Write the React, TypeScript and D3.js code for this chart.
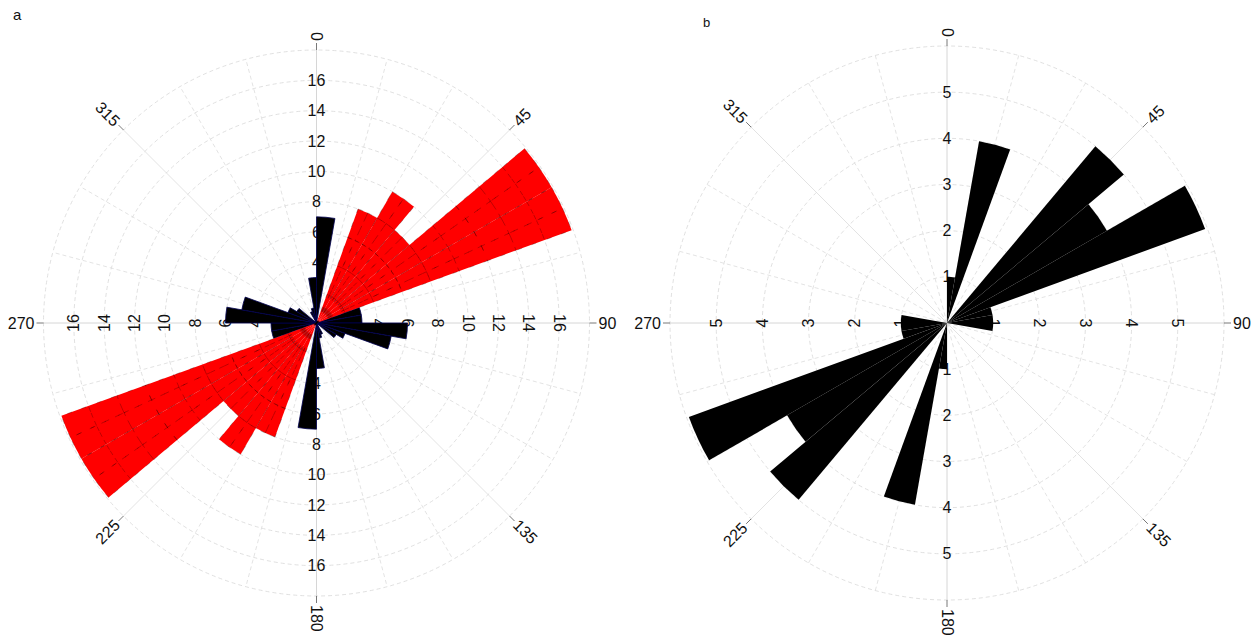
import React from "react";
import * as d3 from "d3";

// ---- data (bins of 10°, axial data mirrored by +180°) ----
const binStarts = [0, 10, 20, 30, 40, 50, 60, 70, 80, 90, 100, 110, 120, 130, 140, 150, 160, 170];
const binWidth = 10;
// Panel a: black series
const aBlack = [7, 0, 0, 0, 0, 0, 0, 3, 3, 6, 5, 2, 1.5, 0, 0, 0.8, 1, 3];
// Panel a: red series
const aRed = [0, 0, 8, 10, 8, 17.9, 17.9, 0, 0, 0, 0, 0, 0, 0, 0, 0, 0, 0];
// Panel b: black series
const bBlack = [1, 4, 0, 0, 5, 4, 5.95, 1, 1, 1, 0, 0, 0, 0, 0, 0, 0, 0];

const angleLabels = [0, 45, 90, 135, 180, 225, 270, 315];
const aTicks = [2, 4, 6, 8, 10, 12, 14, 16];
const bTicks = [1, 2, 3, 4, 5];

const W = 1256;
const H = 638;
const FONT = "'Liberation Sans', Arial, sans-serif";

type Cfg = {
  cx: number;
  cy: number;
  R: number;
  max: number;
  step: number;
  ticks: number[];
};

const toRad = (deg: number) => (deg * Math.PI) / 180;
const pt = (cx: number, cy: number, r: number, deg: number): [number, number] => [
  cx + r * Math.sin(toRad(deg)),
  cy - r * Math.cos(toRad(deg)),
];

function Grid({ cfg }: { cfg: Cfg }) {
  const { cx, cy, R, max, step, ticks } = cfg;
  const s = d3.scaleLinear().domain([0, max]).range([0, R]);
  const rings = d3.range(step, max + step / 2, step);
  const spokes = d3.range(0, 360, 15);
  return (
    <g>
      {rings.map((v) => (
        <circle
          key={"r" + v}
          cx={cx}
          cy={cy}
          r={s(v)}
          fill="none"
          stroke="#d8d8d8"
          strokeWidth={0.8}
          strokeDasharray="4,3"
        />
      ))}
      {spokes.map((a) => {
        const main = a % 45 === 0;
        const [x2, y2] = pt(cx, cy, R, a);
        return (
          <line
            key={"s" + a}
            x1={cx}
            y1={cy}
            x2={x2}
            y2={y2}
            stroke={a % 90 === 0 ? "#cccccc" : "#dcdcdc"}
            strokeWidth={0.8}
            strokeDasharray={main ? undefined : "4,3"}
          />
        );
      })}
      {angleLabels.map((a) => {
        const [x1, y1] = pt(cx, cy, R, a);
        const [x2, y2] = pt(cx, cy, R + 7, a);
        const [tx, ty] = pt(cx, cy, R + 9, a);
        let rot = a - 90;
        let anchor = "start";
        if (!(rot > -90 && rot <= 90)) {
          rot = rot - 180;
          if (rot <= -180) rot += 360;
          anchor = "end";
        }
        return (
          <g key={"al" + a}>
            <line x1={x1} y1={y1} x2={x2} y2={y2} stroke="#555" strokeWidth={0.8} />
            <text
              x={tx}
              y={ty}
              transform={`rotate(${rot},${tx},${ty})`}
              textAnchor={anchor}
              dominantBaseline="central"
              fontSize={16}
              fontFamily={FONT}
              fill="#111"
            >
              {a}
            </text>
          </g>
        );
      })}
      {ticks.map((v) => {
        const r = s(v);
        const items = [
          { x: cx, y: cy - r, rot: 0 },
          { x: cx, y: cy + r, rot: 0 },
          { x: cx + r, y: cy, rot: 90 },
          { x: cx - r, y: cy, rot: -90 },
        ];
        return items.map((it, i) => (
          <text
            key={"t" + v + "_" + i}
            x={it.x}
            y={it.y}
            transform={`rotate(${it.rot},${it.x},${it.y})`}
            textAnchor="middle"
            dominantBaseline="central"
            fontSize={16}
            fontFamily={FONT}
            fill="#111"
          >
            {v}
          </text>
        ));
      })}
    </g>
  );
}

function Bars({
  cfg,
  values,
  fill,
  stroke,
  strokeWidth,
}: {
  cfg: Cfg;
  values: number[];
  fill: string;
  stroke?: string;
  strokeWidth?: number;
}) {
  const { cx, cy, R, max } = cfg;
  const s = d3.scaleLinear().domain([0, max]).range([0, R]);
  const arc = d3.arc<any>();
  const items: { a0: number; v: number }[] = [];
  binStarts.forEach((b, i) => {
    if (values[i] > 0) {
      items.push({ a0: b, v: values[i] });
      items.push({ a0: b + 180, v: values[i] });
    }
  });
  return (
    <g transform={`translate(${cx},${cy})`}>
      {items.map((it, i) => (
        <path
          key={i}
          d={
            arc({
              innerRadius: 0,
              outerRadius: s(it.v),
              startAngle: toRad(it.a0),
              endAngle: toRad(it.a0 + binWidth),
            }) || ""
          }
          fill={fill}
          stroke={stroke || "none"}
          strokeWidth={strokeWidth || 0}
        />
      ))}
    </g>
  );
}

// red bars drawn as stacked sub-segments with faint dark edges
function RedBars({ cfg, values }: { cfg: Cfg; values: number[] }) {
  const { cx, cy, R, max } = cfg;
  const s = d3.scaleLinear().domain([0, max]).range([0, R]);
  const arc = d3.arc<any>();
  const segs: { a0: number; a1: number; r0: number; r1: number }[] = [];
  binStarts.forEach((b, i) => {
    const v = values[i];
    if (v <= 0) return;
    [b, b + 180].forEach((start) => {
      for (let k = 0; k < 2; k++) {
        const a0 = start + k * 5;
        for (let r = 0; r < v; r += 2) {
          segs.push({ a0, a1: a0 + 5, r0: r, r1: Math.min(v, r + 2) });
        }
      }
    });
  });
  const outlines: { a0: number; v: number }[] = [];
  binStarts.forEach((b, i) => {
    if (values[i] > 0) {
      outlines.push({ a0: b, v: values[i] });
      outlines.push({ a0: b + 180, v: values[i] });
    }
  });
  return (
    <g transform={`translate(${cx},${cy})`}>
      {outlines.map((it, i) => (
        <path
          key={"o" + i}
          d={
            arc({
              innerRadius: 0,
              outerRadius: s(it.v),
              startAngle: toRad(it.a0),
              endAngle: toRad(it.a0 + binWidth),
            }) || ""
          }
          fill="#ff0000"
          stroke="none"
        />
      ))}
      {segs.map((sg, i) => (
        <path
          key={"s" + i}
          d={
            arc({
              innerRadius: s(sg.r0),
              outerRadius: s(sg.r1),
              startAngle: toRad(sg.a0),
              endAngle: toRad(sg.a1),
            }) || ""
          }
          fill="none"
          stroke="#000"
          strokeOpacity={0.5}
          strokeWidth={0.5}
          strokeDasharray="5,10"
        />
      ))}
    </g>
  );
}

export default function App() {
  const cfgA: Cfg = { cx: 316.5, cy: 323, R: 273, max: 18, step: 2, ticks: aTicks };
  const cfgB: Cfg = { cx: 947, cy: 323, R: 277, max: 6, step: 1, ticks: bTicks };
  return (
    <svg
      width={W}
      height={H}
      style={{ position: "absolute", left: 0, top: 0, background: "#fff" }}
    >
      <rect x={0} y={0} width={W} height={H} fill="#fff" />
      <text x={13} y={20} fontSize={15} fontFamily={FONT} fill="#111">
        a
      </text>
      <text x={703} y={27} fontSize={13} fontFamily={FONT} fill="#111">
        b
      </text>
      <Grid cfg={cfgA} />
      <Bars cfg={cfgA} values={aBlack} fill="#000" stroke="#000050" strokeWidth={0.8} />
      <RedBars cfg={cfgA} values={aRed} />
      <Grid cfg={cfgB} />
      <Bars cfg={cfgB} values={bBlack} fill="#000" />
    </svg>
  );
}
